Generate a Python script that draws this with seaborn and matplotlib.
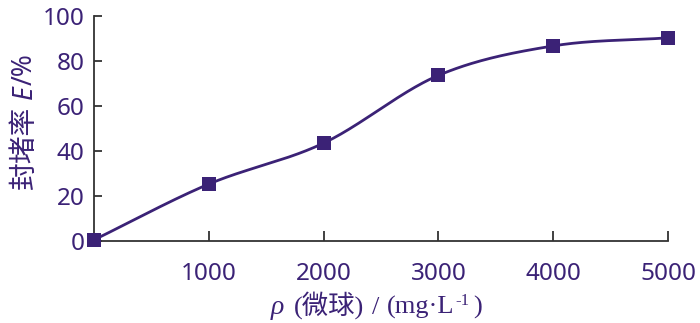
import numpy as np
import pandas as pd
import matplotlib
matplotlib.use("Agg")
import matplotlib.pyplot as plt
import seaborn as sns

# data
conc = [0, 1000, 2000, 3000, 4000, 5000]
rate = [0.5, 25.3, 43.5, 73.6, 86.7, 90.3]
xticks = [1000, 2000, 3000, 4000, 5000]
yticks = [0, 20, 40, 60, 80, 100]

sns.set_theme(style="white")
plt.rcParams['font.family'] = ['Noto Sans', 'Noto Sans CJK SC', 'DejaVu Sans']

PURPLE = '#3b2276'
AXC = '#333333'
W, H = 700, 323

fig = plt.figure(figsize=(W/100, H/100), dpi=100)
ax = fig.add_axes([94/W, 1-241/H, (668-94)/W, (241-16)/H])

# smooth curve (Catmull-Rom / cardinal Hermite through the data points)
x = np.array(conc, float); y = np.array(rate, float)
n = len(x)
mx = np.zeros(n); my = np.zeros(n)
for i in range(n):
    a = max(i-1, 0); b = min(i+1, n-1)
    mx[i] = (x[b]-x[a]) / (b-a)
    my[i] = (y[b]-y[a]) / (b-a)
xs, ys = [], []
t = np.linspace(0, 1, 60)
for i in range(n-1):
    h00 = 2*t**3-3*t**2+1; h10 = t**3-2*t**2+t; h01 = -2*t**3+3*t**2; h11 = t**3-t**2
    xs.append(h00*x[i]+h10*mx[i]+h01*x[i+1]+h11*mx[i+1])
    ys.append(h00*y[i]+h10*my[i]+h01*y[i+1]+h11*my[i+1])
curve = pd.DataFrame({'x': np.concatenate(xs), 'y': np.concatenate(ys)})
sns.lineplot(data=curve, x='x', y='y', sort=False, color=PURPLE, lw=2.0, ax=ax,
             estimator=None)
pts = pd.DataFrame({'x': conc, 'y': rate})
sns.scatterplot(data=pts, x='x', y='y', marker='s', s=110, color=PURPLE,
                edgecolor=PURPLE, linewidth=0, ax=ax, zorder=5, clip_on=False)

ax.set_xlim(0, 5000)
ax.set_ylim(0, 100)
ax.set_xticks(xticks)
ax.set_yticks(yticks)
ax.set_xlabel(''); ax.set_ylabel('')
for s in ['top', 'right']:
    ax.spines[s].set_visible(False)
for s in ['left', 'bottom']:
    ax.spines[s].set_color(AXC)
    ax.spines[s].set_linewidth(1.3)
ax.tick_params(axis='x', direction='in', length=7, width=1.3, color=AXC,
               pad=15, labelsize=17.5, labelcolor=PURPLE, bottom=True)
ax.tick_params(axis='y', direction='in', length=6, width=1.3, color=AXC,
               pad=7, labelsize=17.5, labelcolor=PURPLE, left=True)
ax.grid(False)

# ---- composite labels built from runs of text ----
fig.canvas.draw()
renderer = fig.canvas.get_renderer()


def run(pieces, anchor, center, vertical=False):
    """pieces: (text, kwargs, shift_px, gap_px). anchor: baseline coordinate px."""
    arts = []
    pos = 0.0
    for txt, kw, shift, gap in pieces:
        pos += gap
        if vertical:
            a = fig.text((anchor - shift)/W, pos/H, txt, rotation=90,
                         rotation_mode='anchor', ha='left', va='baseline',
                         color=PURPLE, **kw)
            ext = a.get_window_extent(renderer)
            pos += ext.height
        else:
            a = fig.text(pos/W, (anchor + shift)/H, txt, ha='left',
                         va='baseline', color=PURPLE, **kw)
            ext = a.get_window_extent(renderer)
            pos += ext.width
        arts.append((a, pos - (ext.height if vertical else ext.width)))
    start = center - pos/2
    for a, p in arts:
        xx, yy = a.get_position()
        if vertical:
            a.set_position((xx, (start + p)/H))
        else:
            a.set_position(((start + p)/W, yy))


cjk = ['Noto Sans CJK SC', 'DejaVu Sans']
serif = ['Liberation Serif', 'Noto Sans CJK SC', 'DejaVu Serif']

# y label: 封堵率 E/%
run([('封堵率', dict(fontsize=20, family=cjk), 0, 0),
     ('E', dict(fontsize=19, family=['Noto Sans'], style='italic'), 0, 7),
     ('/%', dict(fontsize=19, family=['Noto Sans']), 0, 0)],
    anchor=32, center=H-121, vertical=True)

# x label: ρ (微球) / (mg·L-1)
run([('ρ', dict(fontsize=20, family=serif, style='italic'), 0, 0),
     ('(微球)', dict(fontsize=19, family=serif), 0, 10),
     ('/', dict(fontsize=19, family=serif), 0, 8),
     ('(mg·L', dict(fontsize=19, family=serif), 0, 8),
     ('-1', dict(fontsize=12, family=serif), 9, 1),
     (')', dict(fontsize=19, family=serif), 0, 3)],
    anchor=H-314, center=376)

fig.savefig('out.png', dpi=100)
